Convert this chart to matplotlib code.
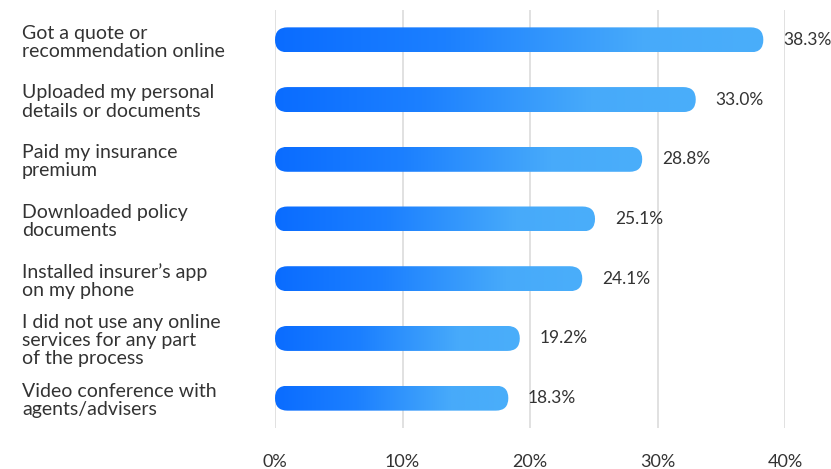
import matplotlib
matplotlib.use("Agg")
import numpy as np
import matplotlib.pyplot as plt
from matplotlib.patches import FancyBboxPatch
from matplotlib.colors import LinearSegmentedColormap

# chart data
labels = [
    "Got a quote or\nrecommendation online",
    "Uploaded my personal\ndetails or documents",
    "Paid my insurance\npremium",
    "Downloaded policy\ndocuments",
    "Installed insurer\u2019s app\non my phone",
    "I did not use any online\nservices for any part\nof the process",
    "Video conference with\nagents/advisers",
]
values = [38.3, 33.0, 28.8, 25.1, 24.1, 19.2, 18.3]
ticks = [0, 10, 20, 30, 40]
tick_labels = ["0%", "10%", "20%", "30%", "40%"]

plt.rcParams["font.family"] = ["Lato", "DejaVu Sans"]

W, H = 831, 469
fig = plt.figure(figsize=(W / 100, H / 100), dpi=100)
# axes placed in pixels: 0% at x=275, 40% at x=785, top y=10, bottom y=428
ax = fig.add_axes([275 / W, 1 - 428 / H, 510 / W, 418 / H])

n = len(values)
ax.set_xlim(0, 40)
ax.set_ylim(n - 0.5, -0.5)

# pixel scales, used to make the bar caps true semicircles
px_x = 510 / 40.0
px_y = 418 / n
bar_h = 25 / px_y
radius = 12.5 / px_x
aspect = (1 / px_y) / (1 / px_x)

cmap = LinearSegmentedColormap.from_list(
    "bars",
    [(0.0, "#0a6cff"), (0.35, "#1c80ff"), (0.75, "#47aafa"), (1.0, "#4aaefa")],
)
grad = np.linspace(0, 1, 256).reshape(1, -1)

for i, v in enumerate(values):
    patch = FancyBboxPatch(
        (0, i - bar_h / 2), v, bar_h,
        boxstyle="round,pad=0,rounding_size=%f" % radius,
        mutation_aspect=aspect,
        facecolor="none", edgecolor="none", zorder=3,
    )
    ax.add_patch(patch)
    im = ax.imshow(grad, cmap=cmap, aspect="auto",
                   extent=(0, v, i + bar_h / 2, i - bar_h / 2),
                   zorder=3, interpolation="bilinear")
    im.set_clip_path(patch)
    ax.text(v + 1.55, i, "%.1f%%" % v, va="center", ha="left",
            fontsize=12.5, color="#333333")

# category labels, left aligned near the figure edge
for i, lab in enumerate(labels):
    ax.text(22 / px_x - 275 / px_x, i + 0.04, lab, va="center", ha="left",
            fontsize=14, color="#333333", linespacing=1.08)

ax.set_xticks(ticks)
ax.set_xticklabels(tick_labels, fontsize=13, color="#333333")
ax.set_yticks([])
ax.tick_params(axis="x", length=0, pad=19)
ax.grid(axis="x", color="#dcdcdc", linewidth=1.2, zorder=0)
ax.set_axisbelow(True)
for s in ax.spines.values():
    s.set_visible(False)

fig.savefig("out.png", dpi=100)
